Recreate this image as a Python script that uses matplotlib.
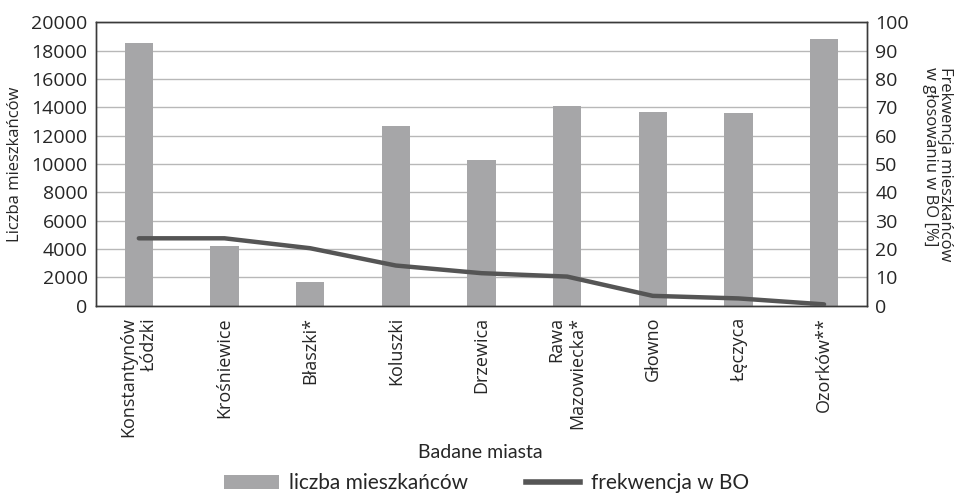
"""Liczba mieszkańców i frekwencja w BO - wykres słupkowo-liniowy."""
import matplotlib
matplotlib.use("Agg")
import matplotlib.pyplot as plt
import numpy as np
from matplotlib.lines import Line2D
from matplotlib.patches import Patch

BAR_GREY = "#a6a6a8"
LINE_GREY = "#555555"
TEXT = "#262626"

cities = [
    "Konstantynów\nŁódzki", "Krośniewice", "Błaszki*", "Koluszki", "Drzewica",
    "Rawa\nMazowiecka*", "Głowno", "Łęczyca", "Ozorków**",
]
population = [18500, 4200, 1700, 12700, 10300, 14100, 13700, 13600, 18800]
turnout = [23.8, 23.8, 20.3, 14.2, 11.5, 10.3, 3.5, 2.6, 0.5]

plt.rcParams["font.family"] = ["Open Sans", "DejaVu Sans"]
narrow = ["Lato", "DejaVu Sans"]

fig = plt.figure(figsize=(9.6, 4.94), dpi=100)
ax = fig.add_axes([0.1, 0.381, 0.803, 0.574])
ax2 = ax.twinx()

x = np.arange(len(cities))
ax.bar(x, population, width=0.33, color=BAR_GREY, zorder=2)
ax.set_ylim(0, 20000)
ax.set_yticks(np.arange(0, 20001, 2000))
ax.set_xlim(-0.5, len(cities) - 0.5)
ax.grid(True, axis="y", color="#b8b8b8", linewidth=1.0, zorder=0)
ax.set_axisbelow(True)

ax2.plot(x, turnout, color=LINE_GREY, linewidth=3.2, solid_capstyle="round", zorder=3)
ax2.set_ylim(0, 100)
ax2.set_yticks(np.arange(0, 101, 10))

ax.set_xticks(x)
ax.set_xticklabels(cities, rotation=90, multialignment="right", fontsize=13, color=TEXT)
ax.tick_params(axis="x", length=0, pad=8)
ax.tick_params(axis="y", length=0, pad=6, labelsize=14, labelcolor=TEXT)
ax2.tick_params(axis="y", length=0, pad=6, labelsize=14, labelcolor=TEXT)

for a in (ax, ax2):
    for spine in a.spines.values():
        spine.set_color("#3a3a3a")
        spine.set_linewidth(1.0)

ax.set_ylabel("Liczba mieszkańców", fontsize=12, color=TEXT, labelpad=6)
ax2.set_ylabel("Frekwencja mieszkańców\nw głosowaniu w BO [%]", fontsize=12,
               color=TEXT, rotation=270, labelpad=32, linespacing=0.95,
               multialignment="left")
fig.text(0.5, 0.085, "Badane miasta", ha="center", va="center",
         fontsize=14, color=TEXT, family=narrow)

handles = [
    Patch(facecolor=BAR_GREY, edgecolor="none"),
    Line2D([0], [0], color=LINE_GREY, linewidth=4.0),
]
fig.legend(handles, ["liczba mieszkańców", "frekwencja w BO"],
           loc="center", bbox_to_anchor=(0.507, 0.022), ncol=2, frameon=False,
           prop={"family": narrow, "size": 15}, handlelength=2.6, handleheight=0.7,
           columnspacing=2.8, handletextpad=0.5, labelcolor=TEXT)

fig.savefig("out.png", dpi=100, facecolor="white")
